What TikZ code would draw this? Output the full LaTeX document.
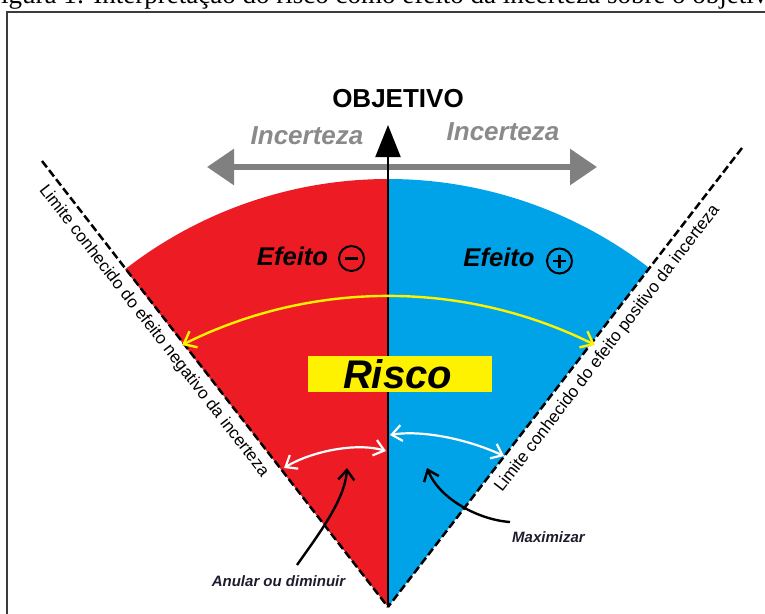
\documentclass[tikz,border=0pt]{standalone}
\usepackage{fontspec}
\setmainfont{Liberation Sans}
\newfontfamily\capfont{Liberation Serif}
\usetikzlibrary{arrows.meta}
\definecolor{wred}{RGB}{237,28,36}
\definecolor{wblue}{RGB}{0,162,232}
\definecolor{wyel}{RGB}{255,242,0}
\definecolor{wgray}{RGB}{128,128,128}
\definecolor{tgray}{RGB}{138,138,138}
\definecolor{framecol}{RGB}{60,60,60}
\definecolor{labcol}{RGB}{28,28,45}
\tikzset{
  boundary/.style={line width=2.5pt, dash pattern=on 8pt off 3.5pt, line cap=butt},
  yelarrow/.style={wyel, line width=2.4pt, {Straight Barb[length=11pt,width=18pt]}-{Straight Barb[length=11pt,width=18pt]}},
  whitearrow/.style={white, line width=2.2pt, {Straight Barb[length=10pt,width=16pt]}-{Straight Barb[length=10pt,width=16pt]}},
  blackcurve/.style={black, line width=2.4pt, -{Straight Barb[length=10pt,width=16pt]}},
  efeitotxt/.style={font=\bfseries\itshape\fontsize{25.6}{26}\selectfont, inner sep=0},
  signcircle/.style={circle, draw=black, line width=2pt, minimum size=25pt, inner sep=0},
  limite/.style={font=\fontsize{17}{17}\selectfont, inner sep=0},
  smalllab/.style={font=\bfseries\itshape\fontsize{15}{15}\selectfont, text=labcol, inner sep=0},
  incert/.style={font=\bfseries\itshape\fontsize{26}{26}\selectfont, text=tgray, inner sep=0}
}
\begin{document}
\begin{tikzpicture}[x=1pt,y=-1pt]
\useasboundingbox (0,0) rectangle (765,613);
% caption (cut at the top) and frame
\node[overlay, anchor=base west, inner sep=0, font=\capfont\fontsize{27}{27}\selectfont] (caption) at (-14,3) {Figura 1: Interpretação do risco como efeito da incerteza sobre o objetivo};
\coordinate (fbl) at (7,660);
\coordinate (ftl) at (7,12);
\coordinate (ftr) at (820,12);
\draw[framecol, line width=1.5pt] (fbl) -- (ftl) -- (ftr);

% key points
\coordinate (apex) at (388,607);
\coordinate (ltop) at (42,161);
\coordinate (rtop) at (742,148);
\coordinate (otip) at (388,125);
\coordinate (gl) at (207,167);
\coordinate (gr) at (597,167);

% sectors
\fill[wred] (apex) -- ++(232.1:428) arc[start angle=232.1, end angle=270, radius=428] -- cycle;
\fill[wblue] (apex) -- ++(270:428) arc[start angle=270, end angle=307.6, radius=428] -- cycle;

% grey uncertainty arrow
\draw[wgray, line width=6pt, {Triangle[length=27pt,width=35pt]}-{Triangle[length=27pt,width=35pt]}] (gl) -- (gr);

% objective arrow
\draw[black, line width=2pt, -{Triangle[length=32pt,width=25pt]}] (apex) -- (otip);

% dashed limits
\draw[boundary] (ltop) -- (apex);
\draw[boundary] (rtop) -- (apex);

% texts on top
\node[font=\bfseries\fontsize{26}{26}\selectfont, inner sep=0] (objetivo) at (398,99) {OBJETIVO};
\node[incert] (incl) at (307,136) {Incerteza};
\node[incert] (incr) at (503,132) {Incerteza};

% efeito labels
\node[efeitotxt] (efneg) at (292.5,256) {Efeito};
\node[signcircle] (minus) at (351.5,258.5) {};
\draw[line width=2.6pt] ([xshift=-6.5pt]minus.center) -- ([xshift=6.5pt]minus.center);
\node[efeitotxt] (efpos) at (499,257.5) {Efeito};
\node[signcircle] (plus) at (559.5,261) {};
\draw[line width=2.6pt] ([xshift=-6.5pt]plus.center) -- ([xshift=6.5pt]plus.center);
\draw[line width=2.6pt] ([yshift=-6.5pt]plus.center) -- ([yshift=6.5pt]plus.center);

% yellow arc
\coordinate (yl) at (182,345);
\coordinate (yr) at (595,345);
\draw[yelarrow] (yl) .. controls (312,280) and (464,280) .. (yr);

% Risco box
\node[fill=wyel, minimum width=184pt, minimum height=36pt, inner sep=0, font=\bfseries\itshape\fontsize{40}{40}\selectfont] (risco) at (400,374) {\hspace*{-5pt}Risco};

% white arcs
\coordinate (wl1) at (284,468);
\coordinate (wl2) at (386,451);
\coordinate (wr1) at (390,435);
\coordinate (wr2) at (504,456);
\draw[whitearrow] (wl1) .. controls (310,452) and (355,442) .. (wl2);
\draw[whitearrow] (wr1) .. controls (420,430) and (465,438) .. (wr2);

% curved black arrows and labels
\node[smalllab] (anular) at (278.5,581) {Anular ou diminuir};
\node[smalllab] (maxim) at (548.5,537) {Maximizar};
\coordinate (at1) at (297,565);
\coordinate (at2) at (347,468);
\coordinate (mt1) at (510,522);
\coordinate (mt2) at (427,468);
\draw[blackcurve] (at1) .. controls (318,535) and (345,500) .. (at2);
\draw[blackcurve] (mt1) .. controls (480,520) and (440,500) .. (mt2);

% limit texts
\node[limite, rotate=-52.2] (limneg) at (153.8,331.2) {Limite conhecido do efeito negativo da incerteza};
\node[limite, rotate=52.4] (limpos) at (607.5,348.7) {Limite conhecido do efeito positivo da incerteza};
\end{tikzpicture}
\end{document}
